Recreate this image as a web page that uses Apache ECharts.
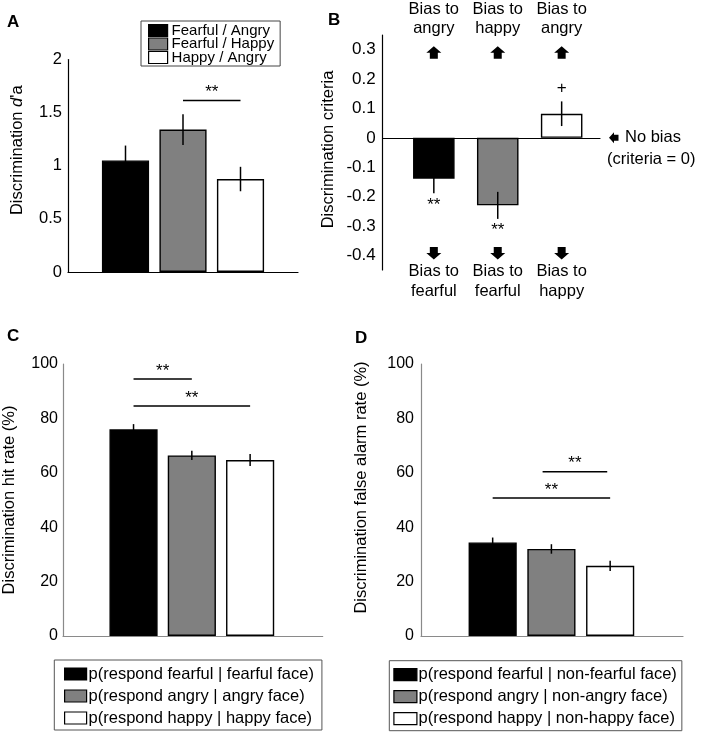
<!DOCTYPE html>
<html><head><meta charset="utf-8">
<script src="https://cdn.jsdelivr.net/npm/echarts@6/dist/echarts.min.js"></script>
<style>html,body{margin:0;padding:0;background:#fff}#c{width:703px;height:735px}</style>
</head><body><div id="c"></div>
<script>
// ---------- Panel A : discrimination d'a ----------
const legendA = ['Fearful / Angry', 'Fearful / Happy', 'Happy / Angry'];
const valA = [1.05, 1.34, 0.875];
const errA = [0.14, 0.145, 0.115];
const sigA = [[2, 3, 1.615, '**']];

// ---------- Panel B : discrimination criteria ----------
const catB = ['B1', 'B2', 'B3'];
const valB = [-0.139, -0.23, 0.082];
const errB = [0.05, 0.046, 0.042];
const markB = ['**', '**', '+'];
const biasUp = ['angry', 'happy', 'angry'];
const biasDown = ['fearful', 'fearful', 'happy'];
const ticksB = [-0.4, -0.3, -0.2, -0.1, 0, 0.1, 0.2, 0.3];

// ---------- Panel C : hit rate ----------
const legendC = ['p(respond fearful | fearful face)', 'p(respond angry | angry face)', 'p(respond happy | happy face)'];
const valC = [76.0, 66.4, 64.7];
const errC = [1.9, 1.7, 2.2];
const sigC = [[1, 2, 94.5, '**'], [1, 3, 84.6, '**']];

// ---------- Panel D : false alarm rate ----------
const legendD = ['p(respond fearful | non-fearful face)', 'p(respond angry | non-angry face)', 'p(respond happy | non-happy face)'];
const valD = [34.4, 32.0, 25.8];
const errD = [1.8, 1.75, 1.9];
const sigD = [[1.85, 2.95, 60.4, '**'], [1, 3, 50.7, '**']];

const FF = '"Liberation Sans", Arial, Helvetica, sans-serif';
const fills = ['#000000', '#808080', '#ffffff'];

const grids = [
  {left: 68, top: 59.5, width: 230, height: 212.5},
  {left: 382.7, top: 35, width: 217.3, height: 235},
  {left: 61, top: 364, width: 261.7, height: 272},
  {left: 421, top: 364, width: 262, height: 272}
];
const xr = [[0, 4], [0.2, 3.6], [-0.21, 4.245], [-0.22, 4.24]];
const barFrac = [0.82, 0.65, 0.82, 0.82];

const series = [];
function addPanel(g, names, vals, errs, sig) {
  const unit = grids[g].width / (xr[g][1] - xr[g][0]);
  const bw = barFrac[g] * unit;
  names.forEach((n, i) => {
    series.push({
      type: 'bar', name: n, xAxisIndex: g, yAxisIndex: g, data: [[i + 1, vals[i]]],
      barWidth: bw, barGap: '-100%', silent: true, z: 2,
      itemStyle: {color: fills[i], borderColor: '#000', borderWidth: 1.4}
    });
  });
  series.push({
    type: 'custom', xAxisIndex: g, yAxisIndex: g, silent: true, z: 4,
    data: vals.map((v, i) => [i + 1, v - errs[i], v + errs[i]]),
    renderItem: (p, api) => {
      const a = api.coord([api.value(0), api.value(1)]);
      const b = api.coord([api.value(0), api.value(2)]);
      return {type: 'line', shape: {x1: a[0], y1: a[1], x2: b[0], y2: b[1]},
        style: {stroke: '#000', lineWidth: 1.5}};
    }
  });
  if (sig) {
    series.push({
      type: 'custom', xAxisIndex: g, yAxisIndex: g, silent: true, z: 4,
      data: sig.map(s => [s[0], s[1], s[2]]),
      renderItem: (p, api) => {
        const a = api.coord([api.value(0), api.value(2)]);
        const b = api.coord([api.value(1), api.value(2)]);
        return {type: 'group', children: [
          {type: 'line', shape: {x1: a[0], y1: a[1], x2: b[0], y2: b[1]}, style: {stroke: '#000', lineWidth: 1.5}},
          {type: 'text', x: (a[0] + b[0]) / 2, y: a[1] - 8,
            style: {text: sig[p.dataIndex][3], fill: '#000', fontSize: 17, fontFamily: FF, align: 'center', verticalAlign: 'middle'}}
        ]};
      }
    });
  }
}
addPanel(0, legendA, valA, errA, sigA);
addPanel(1, catB, valB, errB, null);
addPanel(2, legendC, valC, errC, sigC);
addPanel(3, legendD, valD, errD, sigD);

function upArrow(cx, cy, dir) {
  const s = dir;
  return {type: 'polygon', shape: {points: [
    [cx, cy - 6.5 * s], [cx + 7.5, cy], [cx + 4, cy], [cx + 4, cy + 6 * s],
    [cx - 4, cy + 6 * s], [cx - 4, cy], [cx - 7.5, cy]]}, style: {fill: '#000'}};
}
function txt(x, y, t, align) {
  return {type: 'text', x: x, y: y, style: {text: t, fill: '#000', fontSize: 16.5, fontFamily: FF, align: align || 'center', verticalAlign: 'middle'}};
}
// Panel B annotations (bias labels, arrows, significance marks)
series.push({
  type: 'custom', xAxisIndex: 1, yAxisIndex: 1, silent: true, z: 5,
  data: valB.map((v, i) => [i + 1, v]),
  renderItem: (p, api) => {
    const i = p.dataIndex, x = api.value(0);
    const top = api.coord([x, 0.35]), bot = api.coord([x, -0.45]);
    const up = api.coord([x, 0.29]), dn = api.coord([x, -0.392]);
    const v = valB[i], e = errB[i];
    const end = api.coord([x, v < 0 ? v - e : v + e]);
    const markY = v < 0 ? end[1] + 11.5 : end[1] - 13.5;
    return {type: 'group', children: [
      txt(top[0], top[1] - 25.3, 'Bias to'),
      txt(top[0], top[1] - 6.3, biasUp[i]),
      upArrow(up[0], up[1], 1),
      upArrow(dn[0], dn[1], -1),
      txt(bot[0], bot[1] + 1, 'Bias to'),
      txt(bot[0], bot[1] + 21, biasDown[i]),
      {type: 'text', x: end[0], y: markY, style: {text: markB[i], fill: '#000', fontSize: 17, fontFamily: FF, align: 'center', verticalAlign: 'middle'}}
    ]};
  }
});
series.push({
  type: 'custom', xAxisIndex: 1, yAxisIndex: 1, silent: true, z: 5,
  data: [[3.6, 0]],
  renderItem: (p, api) => {
    const c = api.coord([api.value(0), api.value(1)]);
    const ax = c[0] + 9, ay = c[1];
    return {type: 'group', children: [
      {type: 'polygon', shape: {points: [[ax, ay], [ax + 5, ay - 5.5], [ax + 5, ay - 3], [ax + 9.5, ay - 3], [ax + 9.5, ay + 3], [ax + 5, ay + 3], [ax + 5, ay + 5.5]]}, style: {fill: '#000'}},
      txt(c[0] + 25, ay, 'No bias', 'left'),
      txt(c[0] + 7, ay + 22, '(criteria = 0)', 'left')
    ]};
  }
});

function xAx(g, color) {
  return {gridIndex: g, type: 'value', min: xr[g][0], max: xr[g][1],
    axisLine: {show: true, onZero: true, lineStyle: {color: color, width: 1.2}},
    axisTick: {show: false}, axisLabel: {show: false}, splitLine: {show: false}};
}
function yAx(g, o) {
  return Object.assign({gridIndex: g, type: 'value',
    axisLine: {show: true, onZero: false, lineStyle: {color: o.color, width: 1.2}},
    axisTick: {show: false}, splitLine: {show: false},
    nameLocation: 'middle', nameRotate: 90,
    nameTextStyle: {fontSize: 16.5, fontFamily: FF, color: '#000', padding: o.pad || 0,
      rich: {i: {fontSize: 16.5, fontFamily: FF, fontStyle: 'italic', color: '#000'}}},
    axisLabel: {margin: o.margin, fontSize: o.fs, fontFamily: FF, color: '#000', formatter: o.fmt}}, o.ax);
}
const fmtB = v => {
  const r = Math.round(v * 100) / 100;
  return ticksB.some(t => Math.abs(t - r) < 1e-6) ? String(Math.round(r * 10) / 10) : '';
};

const option = {
  animation: false,
  backgroundColor: '#fff',
  grid: grids.map(g => Object.assign({containLabel: false}, g)),
  xAxis: [xAx(0, '#000'), xAx(1, '#000'), xAx(2, '#8a8a8a'), xAx(3, '#8a8a8a')],
  yAxis: [
    yAx(0, {color: '#000', margin: 6, fs: 16.5, pad: [0, 0, 0, 31], ax: {min: 0, max: 2, interval: 0.5, name: 'Discrimination {i|d}\'a', nameGap: 42}}),
    yAx(1, {color: '#000', margin: 7, fs: 17, fmt: fmtB, pad: [0, 0, 0, 6], ax: {min: -0.45, max: 0.35, interval: 0.05, name: 'Discrimination criteria', nameGap: 46}}),
    yAx(2, {color: '#8a8a8a', margin: 5, fs: 16, ax: {min: 0, max: 100, interval: 20, name: 'Discrimination hit rate (%)', nameGap: 45}}),
    yAx(3, {color: '#8a8a8a', margin: 7, fs: 16, pad: [0, 0, 0, 25], ax: {min: 0, max: 100, interval: 20, name: 'Discrimination false alarm rate (%)', nameGap: 51}})
  ],
  legend: [
    {data: legendA, left: 141, top: 21, orient: 'vertical', icon: 'rect', itemWidth: 19, itemHeight: 12, itemGap: -1.5,
      padding: [2, 6, 1, 7], borderColor: '#444', borderWidth: 1, backgroundColor: '#fff', selectedMode: false,
      itemStyle: {borderColor: '#000', borderWidth: 1.2},
      textStyle: {fontSize: 15, fontFamily: FF, color: '#000', lineHeight: 13, padding: [0, 0, 0, -1]}},
    {data: legendC, left: 54.3, top: 660, orient: 'vertical', icon: 'rect', itemWidth: 22, itemHeight: 12, itemGap: 2,
      padding: [4, 8, 2, 9.7], borderColor: '#555', borderWidth: 1, backgroundColor: '#fff', selectedMode: false,
      itemStyle: {borderColor: '#000', borderWidth: 1.2},
      textStyle: {fontSize: 16.5, fontFamily: FF, color: '#000', lineHeight: 20, padding: [0, 0, 0, -3]}},
    {data: legendD, left: 389.3, top: 660.7, orient: 'vertical', icon: 'rect', itemWidth: 23, itemHeight: 12, itemGap: 2,
      padding: [4, 5, 2, 4], borderColor: '#555', borderWidth: 1, backgroundColor: '#fff', selectedMode: false,
      itemStyle: {borderColor: '#000', borderWidth: 1.2},
      textStyle: {fontSize: 16.5, fontFamily: FF, color: '#000', lineHeight: 20, padding: [0, 0, 0, -3.4]}}
  ],
  graphic: [
    {type: 'text', left: 7, top: 14, style: {text: 'A', fontSize: 17, fontWeight: 'bold', fontFamily: FF, fill: '#000'}},
    {type: 'text', left: 328, top: 12, style: {text: 'B', fontSize: 17, fontWeight: 'bold', fontFamily: FF, fill: '#000'}},
    {type: 'text', left: 7, top: 328, style: {text: 'C', fontSize: 17, fontWeight: 'bold', fontFamily: FF, fill: '#000'}},
    {type: 'text', left: 355, top: 330, style: {text: 'D', fontSize: 17, fontWeight: 'bold', fontFamily: FF, fill: '#000'}}
  ],
  series: series
};
const chart = echarts.init(document.getElementById('c'), null, {renderer: 'canvas'});
chart.setOption(option);
</script>
</body></html>
